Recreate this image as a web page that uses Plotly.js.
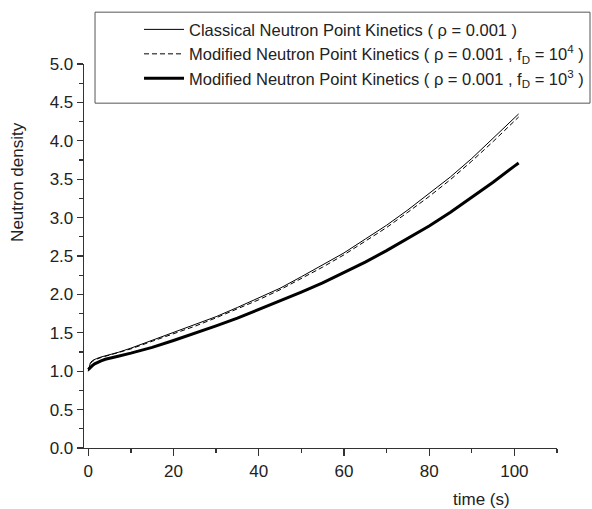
<!DOCTYPE html>
<html>
<head>
<meta charset="utf-8">
<script src="https://cdn.plot.ly/plotly-3.0.1.min.js"></script>
<style>html,body{margin:0;padding:0;background:#fff;}#chart{width:592px;height:509px;}</style>
</head>
<body>
<div id="chart"></div>
<script>
// time (s)
const time = [0, 0.25, 0.5, 1, 1.5, 2, 3, 4, 5, 7, 10, 15, 20, 25, 30, 35, 40, 45, 50, 55, 60, 65, 70, 75, 80, 85, 90, 95, 100, 101];
// Classical Neutron Point Kinetics (rho = 0.001)
const classical = [1.00, 1.07, 1.11, 1.14, 1.155, 1.165, 1.185, 1.20, 1.215, 1.245, 1.30, 1.40, 1.50, 1.60, 1.71, 1.83, 1.95, 2.08, 2.23, 2.38, 2.54, 2.72, 2.90, 3.10, 3.31, 3.53, 3.77, 4.03, 4.30, 4.35];
// Modified Neutron Point Kinetics (rho = 0.001, fD = 1e4)
const modified4 = [1.00, 1.065, 1.10, 1.13, 1.148, 1.158, 1.178, 1.193, 1.208, 1.238, 1.29, 1.39, 1.485, 1.585, 1.695, 1.81, 1.93, 2.06, 2.205, 2.355, 2.515, 2.69, 2.87, 3.07, 3.275, 3.495, 3.735, 3.99, 4.26, 4.31];
// Modified Neutron Point Kinetics (rho = 0.001, fD = 1e3)
const modified3 = [1.02, 1.035, 1.05, 1.075, 1.095, 1.11, 1.135, 1.155, 1.17, 1.195, 1.235, 1.31, 1.40, 1.49, 1.59, 1.69, 1.80, 1.91, 2.03, 2.15, 2.28, 2.42, 2.57, 2.73, 2.89, 3.07, 3.26, 3.46, 3.67, 3.71];

const names = [
  'Classical Neutron Point Kinetics ( ρ = 0.001 )',
  'Modified Neutron Point Kinetics ( ρ = 0.001 , f<sub>D</sub> = 10<sup>4</sup> )',
  'Modified Neutron Point Kinetics ( ρ = 0.001 , f<sub>D</sub> = 10<sup>3</sup> )'
];
const xTickVals = [0, 20, 40, 60, 80, 100];
const yTickVals = [0, 0.5, 1, 1.5, 2, 2.5, 3, 3.5, 4, 4.5, 5];

const FONT = 'Liberation Sans, Arial, sans-serif';

const traces = [
  {x: time, y: classical, name: names[0], mode: 'lines', line: {color: '#000', width: 1}},
  {x: time, y: modified4, name: names[1], mode: 'lines', line: {color: '#000', width: 1, dash: '5px,3px'}},
  {x: time, y: modified3, name: names[2], mode: 'lines', line: {color: '#000', width: 3}}
];

const layout = {
  width: 592, height: 509,
  margin: {l: 84, r: 35, t: 64, b: 61, autoexpand: false},
  paper_bgcolor: '#fff', plot_bgcolor: '#fff',
  font: {family: FONT, size: 16, color: '#222'},
  showlegend: true,
  legend: {
    x: 0.0233 + 44 / 473, y: 1.135, xanchor: 'left', yanchor: 'top',
    bgcolor: 'rgba(0,0,0,0)', borderwidth: 0,
    font: {family: FONT, size: 16.5, color: '#222'},
    itemwidth: 40, tracegroupgap: 0
  },
  xaxis: {
    range: [-1, 110], tickvals: xTickVals, ticks: 'outside', ticklen: 7, tickwidth: 1.3,
    tickcolor: '#333', showline: true, linecolor: '#333', linewidth: 1.3,
    showgrid: false, zeroline: false, automargin: false,
    minor: {dtick: 10, tick0: 0, ticks: 'outside', ticklen: 4, tickwidth: 1.3, tickcolor: '#333', showgrid: false},
    tickfont: {family: FONT, size: 17, color: '#222'}
  },
  yaxis: {
    range: [0, 5], tickvals: yTickVals, tickformat: '.1f', ticks: 'outside', ticklen: 6, tickwidth: 1.3,
    tickcolor: '#333', showline: true, linecolor: '#333', linewidth: 1.3,
    showgrid: false, zeroline: false, automargin: false,
    minor: {dtick: 0.25, tick0: 0, ticks: 'outside', ticklen: 4, tickwidth: 1.3, tickcolor: '#333', showgrid: false},
    tickfont: {family: FONT, size: 17, color: '#222'}
  },
  shapes: [
    {type: 'rect', xref: 'paper', yref: 'paper', x0: 0.0233, x1: 1.0698, y0: 0.898, y1: 1.135,
     line: {color: '#555', width: 1}, fillcolor: 'rgba(0,0,0,0)', layer: 'above'}
  ],
  annotations: [
    {text: 'Neutron density', xref: 'paper', yref: 'paper', x: (18 - 84) / 473, y: 0.693,
     xanchor: 'center', yanchor: 'middle', textangle: -90, showarrow: false,
     font: {family: FONT, size: 17, color: '#222'}},
    {text: 'time (s)', xref: 'paper', yref: 'paper', x: 0.84, y: (448 - 499) / 384,
     xanchor: 'center', yanchor: 'middle', showarrow: false,
     font: {family: FONT, size: 17, color: '#222'}}
  ]
};

Plotly.newPlot('chart', traces, layout, {displayModeBar: false, staticPlot: true});
</script>
</body>
</html>
